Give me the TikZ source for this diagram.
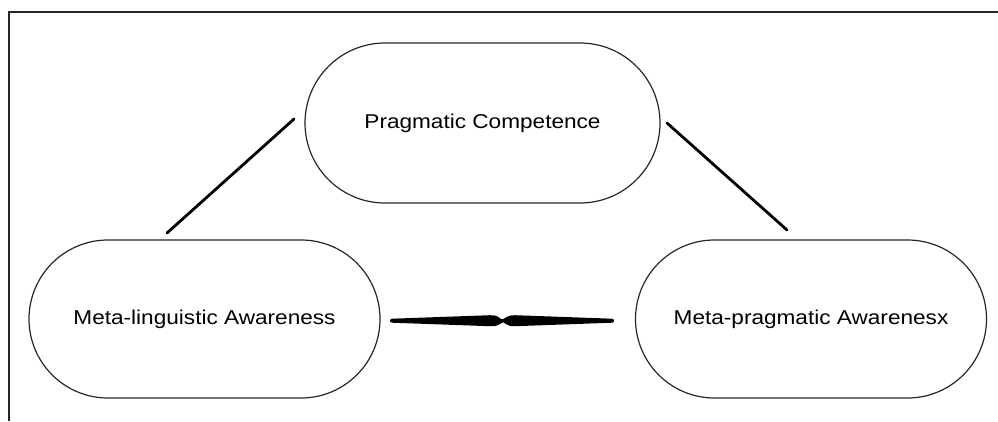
\documentclass[tikz,border=0pt]{standalone}
\usepackage{fontspec}
\setmainfont[FakeStretch=1.13]{Liberation Sans}
\usetikzlibrary{shapes.misc}
\tikzset{
	blob/.style={draw=black!85, line width=1.2pt, rounded rectangle, inner sep=0pt,
		minimum width=351pt, minimum height=158pt, font=\fontsize{20}{24}\selectfont},
	strich/.style={line width=2.8pt, line cap=round}
}
\begin{document}
\begin{tikzpicture}[x=1pt,y=-1pt]
	\useasboundingbox (0,0) rectangle (998,421);
	\draw[line width=2pt, black!85] (9,421) -- (9,12) -- (998,12);%Rahmen oben und links

	\node[blob, minimum width=355pt, minimum height=160pt] (pc) at (482.5,123) {Pragmatic Competence};
	\node[blob] (mla) at (204.5,319) {Meta-linguistic Awareness};
	\node[blob] (mpa) at (811,319) {Meta-pragmatic Awarenesx};

	\coordinate (l1) at (167,233);
	\coordinate (l2) at (294,119);
	\coordinate (r1) at (667,123);
	\coordinate (r2) at (787,230);
	\draw[strich] (l1) -- (l2);%links
	\draw[strich] (r1) -- (r2);%rechts

	\coordinate (m) at (503,320.7);%Mitte
	\fill[line join=round] (392,318.7) -- (490,315.2) .. controls (497,315.5) .. (m) ++(0,-1.5)
		.. controls (509,315.5) .. (515,315.2) -- (612,318.7) arc (-90:90:2) -- (515,326.2)
		.. controls (509,326) .. (503,322.2) .. controls (497,326) .. (490,326.2) -- (392,322.7)
		arc (90:270:2) -- cycle;%Doppelpfeil
\end{tikzpicture}
\end{document}
